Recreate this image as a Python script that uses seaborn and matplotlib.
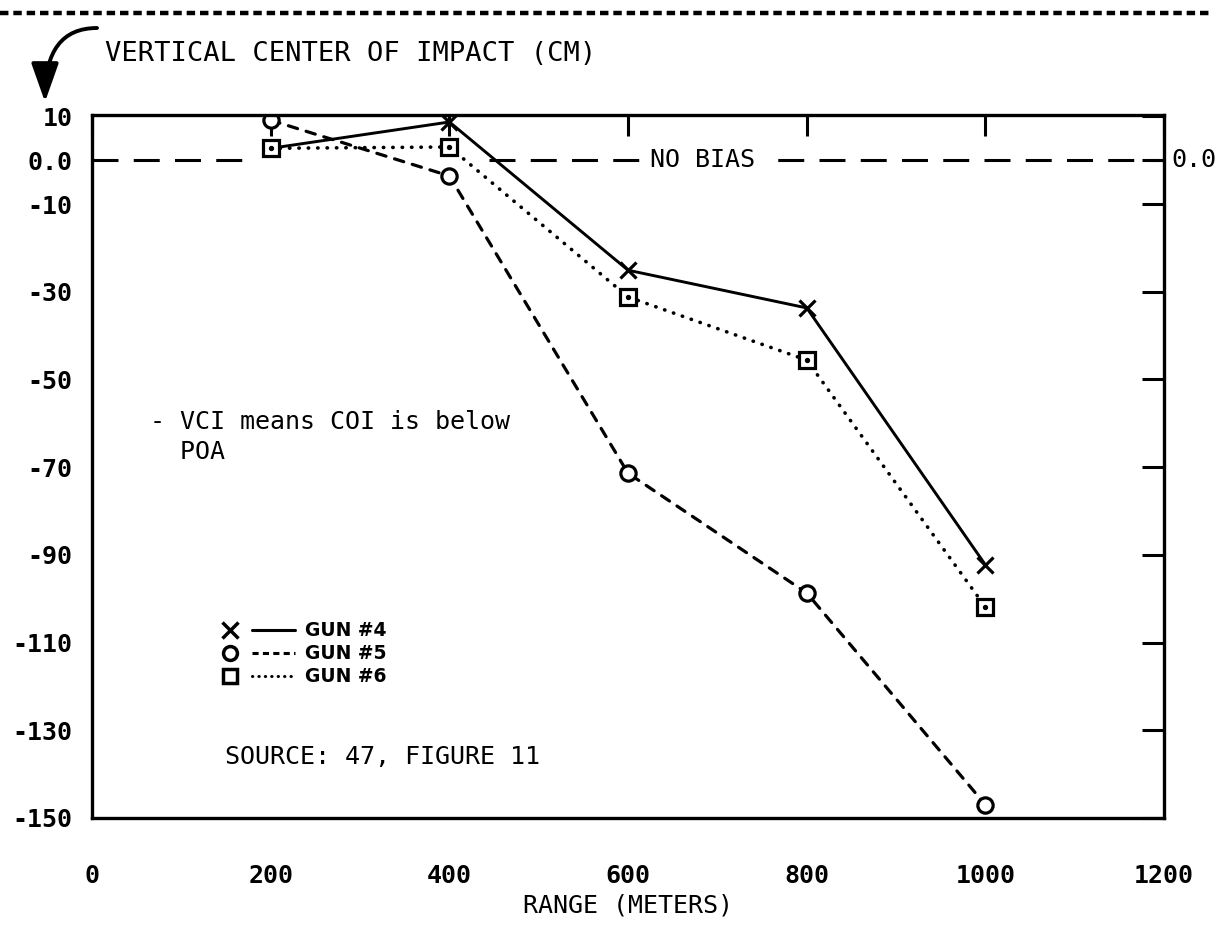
import matplotlib
matplotlib.use("Agg")
import matplotlib.pyplot as plt
import pandas as pd
import seaborn as sns
from matplotlib.legend_handler import HandlerTuple
from matplotlib.lines import Line2D

# values
ranges = [200, 400, 600, 800, 1000]
gun4 = [2.7, 8.7, -25.1, -33.7, -92.3]
gun5 = [9.1, -3.6, -71.4, -98.7, -147.0]
gun6 = [2.7, 3.0, -31.2, -45.6, -101.9]
gun_labels = ["GUN #4", "GUN #5", "GUN #6"]

x_ticks = [0, 200, 400, 600, 800, 1000, 1200]
y_ticks = [10, 0, -10, -30, -50, -70, -90, -110, -130, -150]
y_tick_labels = ["10", "0.0", "-10", "-30", "-50", "-70", "-90", "-110", "-130", "-150"]

df = pd.DataFrame({
    "range": ranges * 3,
    "vci": gun4 + gun5 + gun6,
    "gun": [g for g in gun_labels for _ in ranges],
})

sns.set_theme(style="white")
plt.rcParams["font.family"] = ["DejaVu Sans Mono", "DejaVu Sans"]
plt.rcParams.update({"text.color": "black", "axes.labelcolor": "black",
                     "xtick.color": "black", "ytick.color": "black"})

fig, ax = plt.subplots(figsize=(12.19, 9.25), dpi=100)
fig.subplots_adjust(left=0.0755, right=0.955, bottom=0.1157, top=0.8757)

markers = {"GUN #4": "x", "GUN #5": "o", "GUN #6": "s"}
linestyles = {"GUN #4": "-", "GUN #5": (0, (3.0, 2.8)), "GUN #6": (0, (0.1, 2.5))}
widths = {"GUN #4": 2.1, "GUN #5": 2.3, "GUN #6": 2.6}
for gun in gun_labels:
    sns.lineplot(data=df[df["gun"] == gun], x="range", y="vci",
                 marker=markers[gun], linestyle=linestyles[gun],
                 color="black", lw=widths[gun], markersize=11, markeredgewidth=2.3,
                 markerfacecolor="white", markeredgecolor="black",
                 dash_capstyle="round", legend=False, ax=ax)
# dot in the middle of the square markers
ax.scatter(ranges, gun6, s=8, color="black", zorder=5)

# "no bias" reference line, broken where the curves cross it
ax.axhline(0, xmin=0, xmax=0.14, color="black", lw=2.2, dashes=(8.5, 5), zorder=1)
ax.axhline(0, xmin=0.37, xmax=1, color="black", lw=2.2, dashes=(8.5, 5), zorder=1)
ax.text(683, 0, "NO BIAS", ha="center", va="center", fontsize=18,
        bbox=dict(facecolor="white", edgecolor="none", pad=7), zorder=3)

ax.set_xlim(0, 1200)
ax.set_ylim(-150, 10.3)
ax.set_xticks(x_ticks)
ax.set_yticks(y_ticks)
ax.set_yticklabels(y_tick_labels)
ax.tick_params(axis="both", which="both", direction="in", top=True, right=True,
               width=2.2, color="black", labelsize=18)
ax.tick_params(axis="y", length=16, pad=14)
ax.tick_params(axis="x", length=15, pad=33)
for lab in ax.get_xticklabels() + ax.get_yticklabels():
    lab.set_fontweight("bold")
for sp in ax.spines.values():
    sp.set_visible(True)
    sp.set_color("black")
    sp.set_linewidth(2.4)

ax.set_xlabel("RANGE (METERS)", fontsize=18, labelpad=4)
ax.set_ylabel("")
ax.annotate("0.0", xy=(1, 0), xycoords=("axes fraction", "data"),
            xytext=(5, 0), textcoords="offset points", va="center",
            fontsize=18)

# legend: marker, then line, then label
handles = [
    (Line2D([], [], marker="x", ls="none", ms=11, mew=2.5, color="black"),
     Line2D([], [], ls="-", lw=2.2, color="black")),
    (Line2D([], [], marker="o", ls="none", ms=10, mew=2.5, mfc="white", color="black"),
     Line2D([], [], lw=2.2, color="black", dashes=(2.0, 1.4))),
    (Line2D([], [], marker="s", ls="none", ms=10, mew=2.5, mfc="white", color="black"),
     Line2D([], [], lw=2.2, color="black", dashes=(0.1, 2.0), dash_capstyle="round")),
]
ax.legend(handles, gun_labels, handler_map={tuple: HandlerTuple(ndivide=None, pad=0)},
          loc="upper left", bbox_to_anchor=(0.109, 0.28), frameon=False,
          prop={"family": "DejaVu Sans", "weight": "bold", "size": 13.5},
          handlelength=4.6, handletextpad=0.5, labelspacing=0.22,
          borderaxespad=0, borderpad=0)

fig.text(150 / 1219, 1 - 410 / 925, "- VCI means COI is below\n  POA",
         fontsize=18, va="top", linespacing=1.3)
fig.text(225 / 1219, 1 - 757 / 925, "SOURCE: 47, FIGURE 11", fontsize=18,
         va="center")
fig.text(105 / 1219, 1 - 54 / 925, "VERTICAL CENTER OF IMPACT (CM)",
         fontsize=19.5, va="center")

# curved arrow pointing at the y axis
ax.annotate("", xy=(45, 925 - 102), xycoords="figure pixels",
            xytext=(97, 925 - 28), textcoords="figure pixels",
            arrowprops=dict(arrowstyle="-|>,head_length=0.85,head_width=0.3",
                            connectionstyle="angle3,angleA=180,angleB=90",
                            color="black", lw=2.8, mutation_scale=28,
                            shrinkA=0, shrinkB=0))

# dashed rule across the top of the page
fig.add_artist(Line2D([0, 0.993], [1 - 13 / 925, 1 - 13 / 925],
                      transform=fig.transFigure, color="black", lw=3.2,
                      dashes=(1.9, 1.1)))

fig.savefig("out.png", dpi=100, facecolor="white")
